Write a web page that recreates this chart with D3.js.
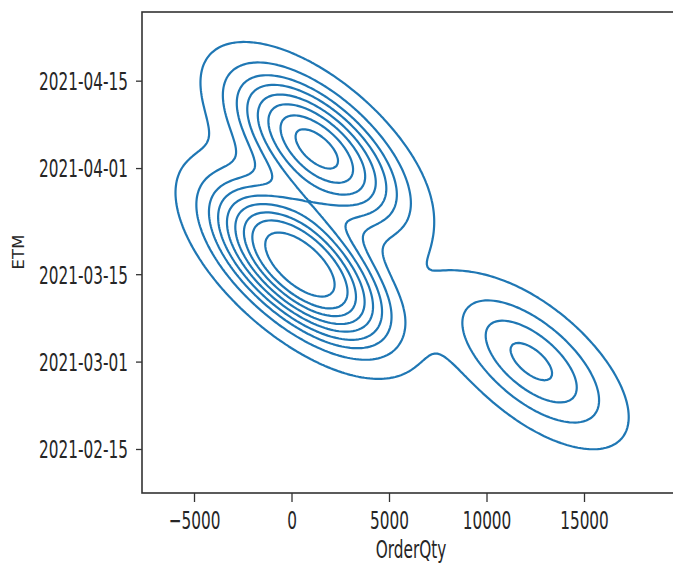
<!DOCTYPE html>
<html>
<head>
<meta charset="utf-8">
<script src="https://cdn.jsdelivr.net/npm/d3@7"></script>
<style>
  body { margin: 0; background: #fff; }
  text { font-family: "DejaVu Sans", sans-serif; fill: #262626; }
</style>
</head>
<body>
<svg id="kde-viz"></svg>
<script>
// Sample behind the KDE (OrderQty vs ETM)
let orderQty = [
    900, 1100, 1300, 1300, 1400, 1600, 1500,
    -200, 0, 200, 400, 500, 600, 800, 1000, 300, 700,
    11600, 12300, 13000
];
let etm = [
    '2021-04-05', '2021-04-04', '2021-04-04', '2021-04-04', '2021-04-03', '2021-04-04', '2021-04-05',
    '2021-03-18', '2021-03-17', '2021-03-18', '2021-03-16', '2021-03-17', '2021-03-15',
    '2021-03-16', '2021-03-15', '2021-03-17', '2021-03-16',
    '2021-03-02', '2021-03-01', '2021-02-28'
];

// Axis ticks
let xTicks = [-5000, 0, 5000, 10000, 15000];
let yTicks = ['2021-02-15', '2021-03-01', '2021-03-15', '2021-04-01', '2021-04-15'];

let DAY = 864e5;
let chartWidth = 673;
let chartHeight = 565;

// plot box (right spine falls just outside the picture)
let plotLeft = 142, plotRight = 680, plotTop = 12, plotBottom = 493;

let xScale = d3.scaleLinear()
    .domain([-7667, 19923])
    .range([plotLeft, plotRight]);

let yScale = d3.scaleUtc()
    .domain([new Date(Date.UTC(2021, 1, 15) - 7.05 * DAY), new Date(Date.UTC(2021, 3, 15) + 11.0 * DAY)])
    .range([plotBottom, plotTop]);

let svg = d3.select('#kde-viz')
    .attr('width', chartWidth)
    .attr('height', chartHeight);

svg.append('defs').append('clipPath')
    .attr('id', 'plot-clip')
    .append('rect')
    .attr('x', plotLeft).attr('y', plotTop)
    .attr('width', plotRight - plotLeft).attr('height', plotBottom - plotTop);

// --- gaussian kde, same recipe as scipy / seaborn (scott bandwidth, full covariance)
let samples = orderQty.map((q, i) => [q, Date.parse(etm[i] + 'T00:00:00Z') / DAY]);
let n = samples.length;
let mx = d3.mean(samples, d => d[0]);
let my = d3.mean(samples, d => d[1]);
let sxx = d3.sum(samples, d => (d[0] - mx) ** 2) / (n - 1);
let syy = d3.sum(samples, d => (d[1] - my) ** 2) / (n - 1);
let sxy = d3.sum(samples, d => (d[0] - mx) * (d[1] - my)) / (n - 1);
let f2 = Math.pow(n, -1 / 3);
let cxx = sxx * f2, cyy = syy * f2, cxy = sxy * f2;
let det = cxx * cyy - cxy * cxy;
let ixx = cyy / det, iyy = cxx / det, ixy = -cxy / det;

function density(x, y) {
    let s = 0;
    for (const [px, py] of samples) {
        let dx = x - px, dy = y - py;
        s += Math.exp(-0.5 * (ixx * dx * dx + 2 * ixy * dx * dy + iyy * dy * dy));
    }
    return s / (n * 2 * Math.PI * Math.sqrt(det));
}

let gridSize = 200;
let cut = 3;
let x0 = d3.min(samples, d => d[0]) - cut * Math.sqrt(cxx);
let x1 = d3.max(samples, d => d[0]) + cut * Math.sqrt(cxx);
let y0 = d3.min(samples, d => d[1]) - cut * Math.sqrt(cyy);
let y1 = d3.max(samples, d => d[1]) + cut * Math.sqrt(cyy);
let sx = (x1 - x0) / (gridSize - 1);
let sy = (y1 - y0) / (gridSize - 1);

let values = new Float64Array(gridSize * gridSize);
for (let j = 0; j < gridSize; j++) {
    for (let i = 0; i < gridSize; i++) {
        values[j * gridSize + i] = density(x0 + i * sx, y0 + j * sy);
    }
}

// iso-proportion levels (levels=10, thresh=0.05)
let sorted = Array.from(values).sort((a, b) => b - a);
let total = d3.sum(sorted);
let cum = Array.from(d3.cumsum(sorted), v => v / total);
let levels = d3.range(10)
    .map(i => 0.05 + i * 0.95 / 9)
    .map(p => sorted[Math.min(d3.bisectLeft(cum, 1 - p), sorted.length - 1)])
    .filter(v => v < sorted[0]);

let contours = d3.contours()
    .size([gridSize, gridSize])
    .thresholds(levels)(values);

let toPixels = d3.geoTransform({
    point: function (gx, gy) {
        let q = x0 + (gx - 0.5) * sx;
        let t = y0 + (gy - 0.5) * sy;
        this.stream.point(xScale(q), yScale(new Date(t * DAY)));
    }
});

svg.append('g')
    .attr('clip-path', 'url(#plot-clip)')
    .selectAll('path')
    .data(contours)
    .enter()
    .append('path')
    .attr('d', d3.geoPath(toPixels))
    .attr('fill', 'none')
    .attr('stroke', '#1f77b4')
    .attr('stroke-width', 2.2)
    .attr('stroke-linejoin', 'round');

// --- axes
let xAxis = svg.append('g')
    .attr('transform', `translate(0,${plotBottom})`)
    .call(d3.axisBottom(xScale)
        .tickValues(xTicks)
        .tickSize(9)
        .tickFormat(d => d < 0 ? '\u2212' + Math.abs(d) : String(d)));

xAxis.select('.domain').remove();
xAxis.selectAll('line').attr('stroke', '#333').attr('stroke-width', 1.3);
xAxis.selectAll('text')
    .attr('y', null)
    .attr('dy', null)
    .attr('transform', 'translate(0,36) scale(1,1.6)')
    .style('font-size', '15.3px');

let yAxis = svg.append('g')
    .attr('transform', `translate(${plotLeft},0)`)
    .call(d3.axisLeft(yScale)
        .tickValues(yTicks.map(d => new Date(d + 'T00:00:00Z')))
        .tickSize(6)
        .tickFormat(d3.utcFormat('%Y-%m-%d')));

yAxis.select('.domain').remove();
yAxis.selectAll('line').attr('stroke', '#333').attr('stroke-width', 1.3);
yAxis.selectAll('text')
    .attr('x', null)
    .attr('dy', null)
    .attr('transform', 'translate(-14,8.9) scale(1,1.6)')
    .style('font-size', '15.3px');

// spines
svg.append('rect')
    .attr('x', plotLeft).attr('y', plotTop)
    .attr('width', plotRight - plotLeft).attr('height', plotBottom - plotTop)
    .attr('fill', 'none')
    .attr('stroke', '#333')
    .attr('stroke-width', 1.6);

// axis labels
svg.append('text')
    .attr('transform', 'translate(411,558) scale(1,1.6)')
    .attr('text-anchor', 'middle')
    .style('font-size', '15.3px')
    .text('OrderQty');

svg.append('text')
    .attr('transform', 'translate(23.5,252) rotate(-90)')
    .attr('text-anchor', 'middle')
    .style('font-size', '16.5px')
    .text('ETM');
</script>
</body>
</html>
